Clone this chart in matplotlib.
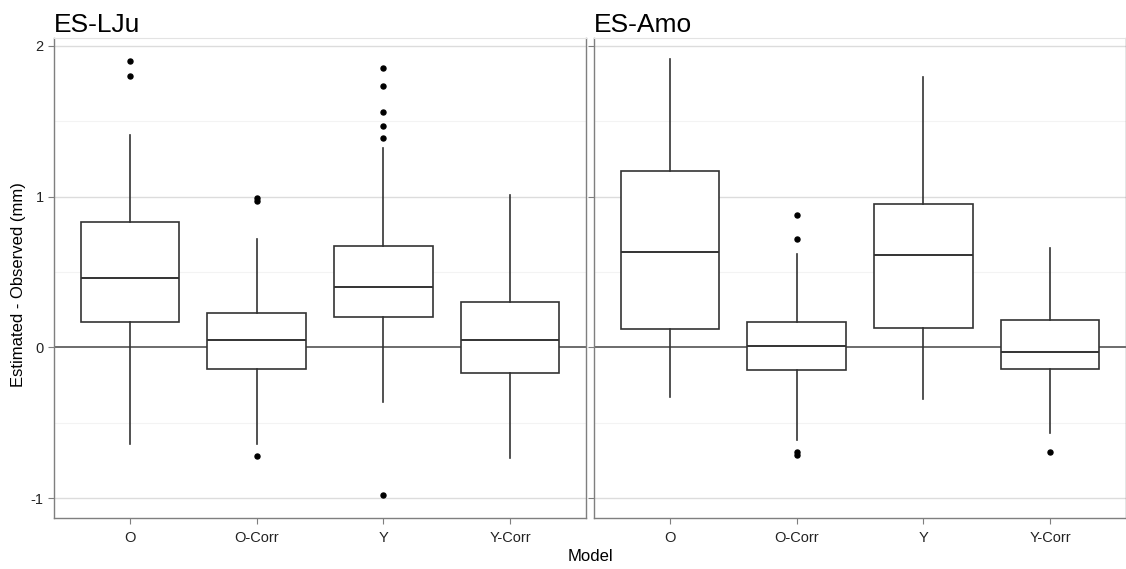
import matplotlib
matplotlib.use("Agg")
import matplotlib.pyplot as plt

plt.rcParams['font.family'] = ['Liberation Sans', 'DejaVu Sans']
plt.rcParams['axes.unicode_minus'] = False

models = ["O", "O-Corr", "Y", "Y-Corr"]
panels = ["ES-LJu", "ES-Amo"]

# box statistics per panel, one value per model
lju_q1 = [0.17, -0.14, 0.20, -0.17]
lju_med = [0.46, 0.05, 0.40, 0.05]
lju_q3 = [0.83, 0.23, 0.67, 0.30]
lju_lo = [-0.64, -0.64, -0.36, -0.73]
lju_hi = [1.41, 0.72, 1.32, 1.01]
lju_out = [[1.90, 1.80], [0.99, 0.97, -0.72], [1.85, 1.73, 1.56, 1.47, 1.39, -0.98], []]

amo_q1 = [0.12, -0.15, 0.13, -0.14]
amo_med = [0.63, 0.01, 0.61, -0.03]
amo_q3 = [1.17, 0.17, 0.95, 0.18]
amo_lo = [-0.33, -0.61, -0.34, -0.57]
amo_hi = [1.91, 0.62, 1.79, 0.66]
amo_out = [[], [0.88, 0.72, -0.69, -0.71], [], [-0.69]]

y_ticks = [-1, 0, 1, 2]
y_minor = [-0.5, 0.5, 1.5]


def make_stats(q1, med, q3, lo, hi, out):
    stats = []
    for i in range(len(models)):
        stats.append({"label": models[i], "q1": q1[i], "med": med[i], "q3": q3[i],
                      "whislo": lo[i], "whishi": hi[i], "fliers": out[i]})
    return stats


data = [
    make_stats(lju_q1, lju_med, lju_q3, lju_lo, lju_hi, lju_out),
    make_stats(amo_q1, amo_med, amo_q3, amo_lo, amo_hi, amo_out),
]

fig = plt.figure(figsize=(11.26, 5.69), dpi=100)
axes = [fig.add_axes([0.048, 0.0896, 0.4725, 0.8436]),
        fig.add_axes([0.5275, 0.0896, 0.4725, 0.8436])]

line_c = "#333333"
for k, ax in enumerate(axes):
    for y in y_ticks:
        if y != 0:
            ax.axhline(y, color="#dcdcdc", lw=1.0, zorder=0)
    for y in y_minor:
        ax.axhline(y, color="#f3f3f3", lw=0.8, zorder=0)
    ax.axhline(0, color="#444444", lw=1.1, zorder=1)

    ax.bxp(data[k], positions=range(1, 5), widths=0.78, showcaps=False,
           patch_artist=True,
           boxprops=dict(facecolor="white", edgecolor=line_c, lw=1.2),
           medianprops=dict(color=line_c, lw=1.4),
           whiskerprops=dict(color=line_c, lw=1.2),
           flierprops=dict(marker="o", markerfacecolor="black", markeredgecolor="black",
                           markersize=3.6),
           zorder=2)

    ax.set_xlim(0.4, 4.6)
    ax.set_ylim(-1.13, 2.05)
    ax.set_yticks(y_ticks)
    ax.set_xticks(range(1, 5))
    ax.set_xticklabels(models)
    ax.tick_params(axis="both", colors="#7f7f7f", labelcolor="#222222",
                   labelsize=10.5, length=4, width=0.8)
    ax.tick_params(axis="x", pad=5)
    if k == 1:
        ax.set_yticklabels([])
    for side in ["left", "bottom", "right"]:
        ax.spines[side].set_color("#7f7f7f")
        ax.spines[side].set_linewidth(1.0)
    ax.spines["top"].set_color("#e3e3e3")
    ax.set_title(panels[k], loc="left", fontsize=19, pad=4)

fig.text(0.524, 0.008, "Model", ha="center", va="bottom", fontsize=12)
fig.text(0.016, 0.5, "Estimated - Observed (mm)", rotation=90, ha="center",
         va="center", fontsize=12)

fig.savefig("out.png", dpi=100, facecolor="white")
